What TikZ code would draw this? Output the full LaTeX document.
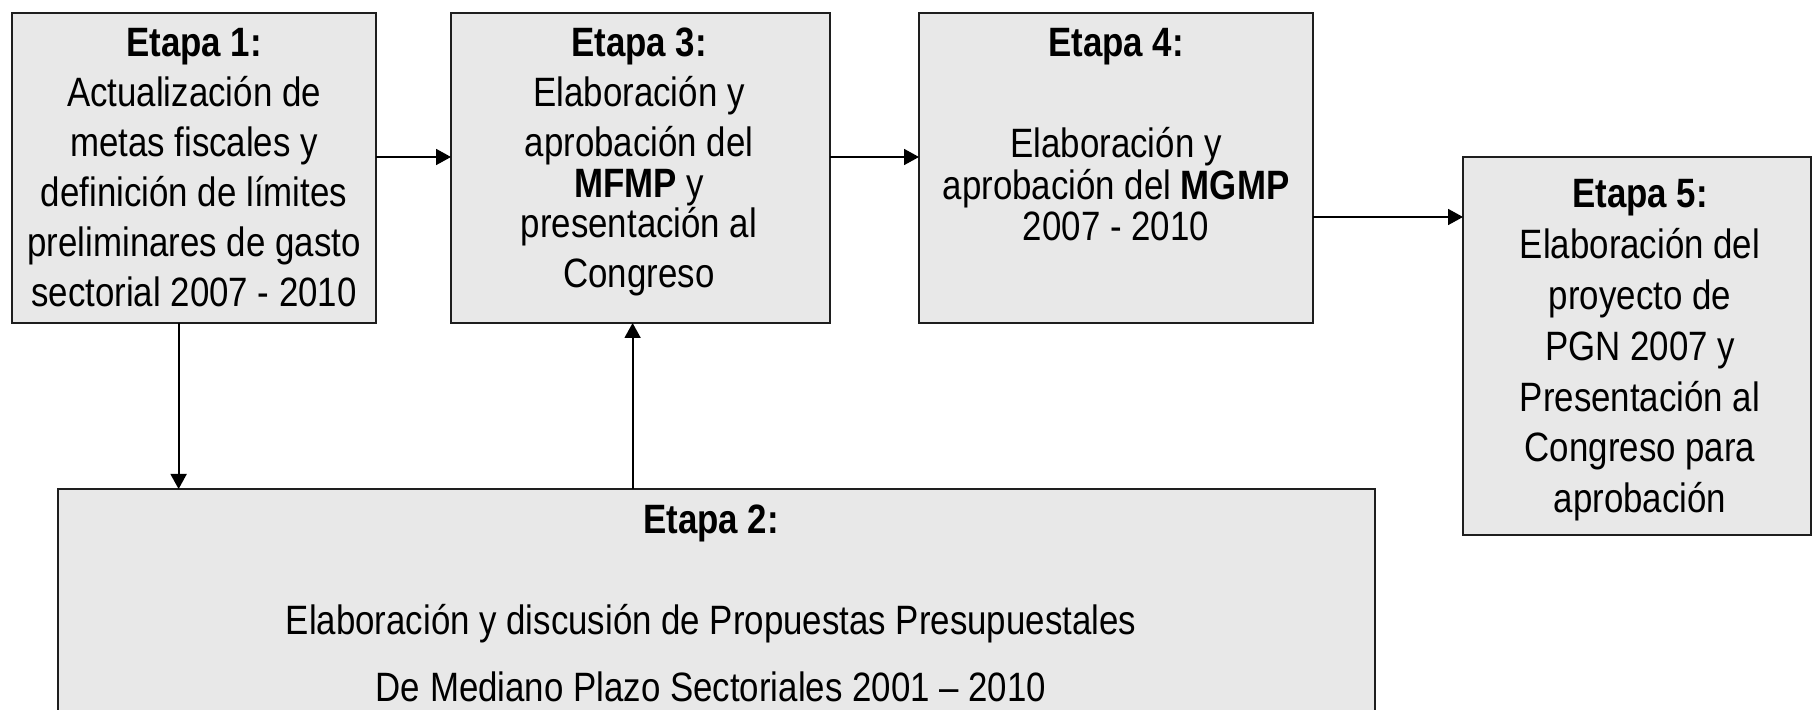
\documentclass[tikz,border=0pt]{standalone}
\usepackage{fontspec}
\setmainfont{Liberation Sans}[FakeStretch=0.85]
\usetikzlibrary{arrows.meta}
\definecolor{boxfill}{RGB}{232,232,232}
\definecolor{boxline}{RGB}{30,30,30}
\begin{document}
\begin{tikzpicture}[x=0.5pt,y=-0.5pt,
  stagebox/.style={draw=boxline, fill=boxfill, line width=1pt, inner sep=0pt, outer sep=0pt},
  txt/.style={anchor=base, inner sep=0pt, font=\fontsize{20.5}{25}\selectfont},
  arr/.style={-{Triangle[length=7.5pt,width=8pt]}, line width=0.9pt, black}]
\useasboundingbox (0,0) rectangle (1812,710);
% boxes
\node[stagebox, minimum width=182pt, minimum height=155pt] (e1) at (194,168) {};
\node[stagebox, minimum width=189.5pt, minimum height=155pt] (e3) at (640.5,168) {};
\node[stagebox, minimum width=197pt, minimum height=155pt] (e4) at (1116,168) {};
\node[stagebox, minimum width=174pt, minimum height=189pt] (e5) at (1637,346) {};
\node[stagebox, minimum width=658.5pt, minimum height=135.5pt] (e2) at (716.5,624.5) {};
% texts
\node[txt] (t1) at (194,57) {\begin{tabular}[t]{@{}c@{}}\textbf{Etapa 1:}\\Actualización de\\metas fiscales y\\definición de límites\\preliminares de gasto\\sectorial 2007 - 2010\end{tabular}};
\node[txt] (t3) at (639,57) {\begin{tabular}[t]{@{}c@{}}\textbf{Etapa 3:}\\Elaboración y\\aprobación del\\[-4.5pt]\textbf{MFMP} y\\[-5pt]presentación al\\Congreso\end{tabular}};
\node[txt] (t4) at (1116,57) {\begin{tabular}[t]{@{}c@{}}\textbf{Etapa 4:}\\[25.5pt]Elaboración y\\[-4pt]aprobación del \textbf{MGMP}\\[-4.5pt]2007 - 2010\end{tabular}};
\node[txt, font=\fontsize{20.5}{25.4}\selectfont] (t5) at (1640,208) {\begin{tabular}[t]{@{}c@{}}\textbf{Etapa 5:}\\Elaboración del\\proyecto de\\PGN 2007 y\\Presentación al\\Congreso para\\aprobación\end{tabular}};
\node[txt] (t2) at (711,534) {\begin{tabular}[t]{@{}c@{}}\textbf{Etapa 2:}\\[25.5pt]Elaboración y discusión de Propuestas Presupuestales\\[8.5pt]De Mediano Plazo Sectoriales 2001 – 2010\end{tabular}};
% connectors
\draw[arr] ([yshift=5.5pt]e1.east) -- ([yshift=5.5pt]e1.east -| e3.west);
\draw[arr] ([yshift=5.5pt]e3.east) -- ([yshift=5.5pt]e3.east -| e4.west);
\draw[arr] ([yshift=-24.5pt]e4.east) -- ([yshift=-24.5pt]e4.east -| e5.west);
\draw[arr] ([xshift=-7.7pt]e1.south) -- ([xshift=-7.7pt]e1.south |- e2.north);
\draw[arr] ([xshift=-3.95pt]e3.south |- e2.north) -- ([xshift=-3.95pt]e3.south);
\end{tikzpicture}
\end{document}
